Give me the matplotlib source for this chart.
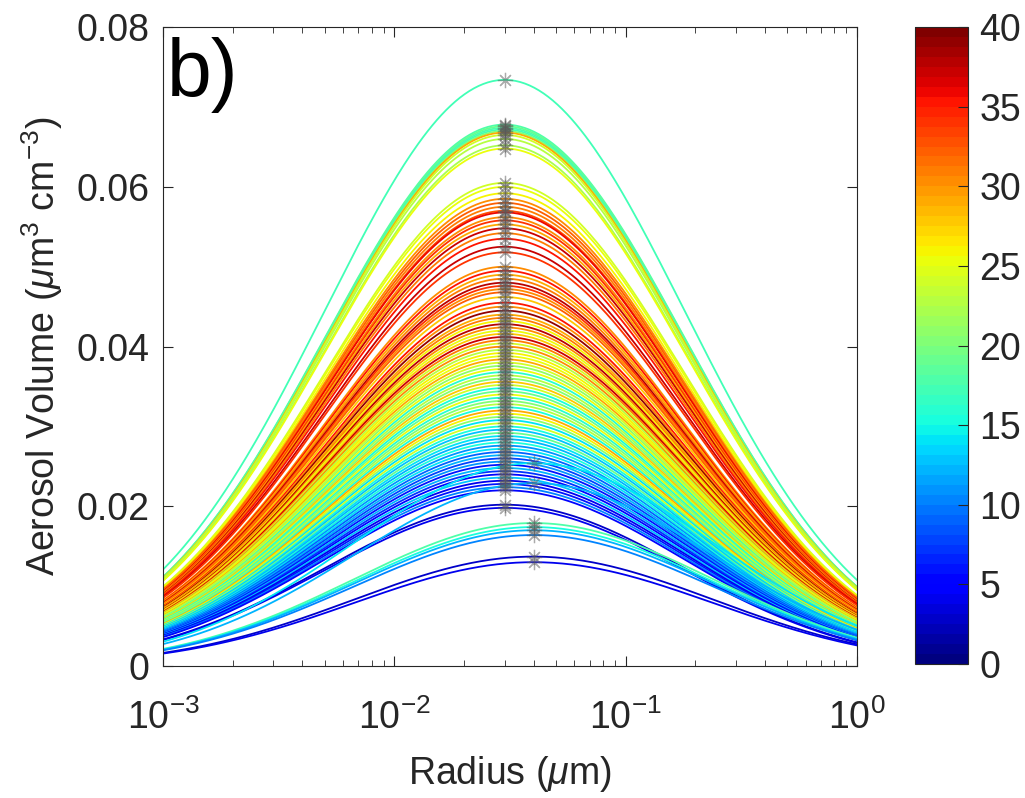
import matplotlib.pyplot as plt
import matplotlib as mpl
import numpy as np

plt.rcParams['font.family'] = ['Liberation Sans', 'DejaVu Sans']
plt.rcParams['mathtext.fontset'] = 'custom'
plt.rcParams['mathtext.rm'] = 'Liberation Sans'
plt.rcParams['mathtext.it'] = 'Liberation Sans:italic'

# fitted log-normal modes: peak volume, mode radius, colour value
peak_volume = [
    0.0734,
    0.0678, 0.0676, 0.0674, 0.0672, 0.0670, 0.0668, 0.0665, 0.0660, 0.0652, 0.0648,
    0.0605, 0.0600, 0.0592,
    0.0585, 0.0580, 0.0575, 0.0570, 0.0568, 0.0562, 0.0558, 0.0553, 0.0548, 0.0542, 0.0535,
    0.0525, 0.0518,
    0.0500, 0.0495, 0.0490, 0.0485, 0.0480, 0.0476, 0.0472, 0.0468, 0.0462,
    0.0455, 0.0450, 0.0445, 0.0440, 0.0436, 0.0432, 0.0428, 0.0424, 0.0420, 0.0416,
    0.0412, 0.0408, 0.0404, 0.0400, 0.0396,
    0.0392, 0.0388, 0.0384, 0.0380, 0.0376, 0.0372, 0.0368, 0.0364, 0.0360, 0.0356,
    0.0352, 0.0348, 0.0344, 0.0340, 0.0336, 0.0332, 0.0328, 0.0324, 0.0320, 0.0316,
    0.0312, 0.0308, 0.0304, 0.0300, 0.0296, 0.0292, 0.0288, 0.0284, 0.0280, 0.0276,
    0.0272, 0.0268, 0.0264, 0.0260, 0.0256, 0.0252, 0.0248, 0.0244, 0.0240, 0.0236,
    0.0232, 0.0228, 0.0224, 0.0220,
    0.0202, 0.0198,
    0.0254, 0.0229,
    0.0179, 0.0174, 0.0170, 0.0164, 0.0137, 0.0130,
]
mode_radius = [0.03] * 97 + [0.04] * 8
color_value = [
    17,
    18, 19, 18, 17, 20, 29, 24, 23, 22, 25,
    24, 25, 26,
    30, 32, 31, 33, 36, 30, 34, 29, 37, 31, 35,
    37, 34,
    30, 35, 29, 31, 38, 34, 30, 32, 28,
    35, 30, 39, 29, 31, 26, 38, 30, 25, 28,
    37, 31, 24, 30, 23,
    26, 25, 29, 24, 21, 25, 16, 23, 20, 28,
    24, 15, 19, 25, 16, 20, 23, 15, 29, 26,
    21, 14, 24, 15, 13, 19, 14, 12, 15, 11,
    14, 9, 12, 8, 11, 6, 12, 7, 5, 13,
    4, 6, 10, 5,
    3, 4,
    14, 12,
    18, 15, 12, 10, 3, 4,
]
ln_width = 1.79

radius = np.logspace(-3, 0, 300)
cmap = mpl.colormaps['jet'].resampled(64)
norm = mpl.colors.Normalize(0, 40)

fig = plt.figure(figsize=(10.25, 7.98), dpi=100)
ax = fig.add_axes([0.159, 0.1654, 0.677, 0.8006])
cax = fig.add_axes([0.893, 0.168, 0.0517, 0.798])

for v, rm, c in zip(peak_volume, mode_radius, color_value):
    vol = v * np.exp(-np.log(radius / rm)**2 / (2 * ln_width**2))
    ax.plot(radius, vol, color=cmap(norm(c)), lw=1.3)

ax.plot(mode_radius, peak_volume, ls='none', marker=(8, 2, 0), ms=11,
        mec='0.35', mew=0.9, alpha=0.5)

ax.set_xscale('log')
ax.set_xlim(1e-3, 1)
ax.set_ylim(0, 0.08)
ax.set_yticks([0, 0.02, 0.04, 0.06, 0.08])
ax.set_yticklabels(['0', '0.02', '0.04', '0.06', '0.08'])
ax.set_xticks([1e-3, 1e-2, 1e-1, 1])
ax.set_xticklabels([r'$10^{-3}$', r'$10^{-2}$', r'$10^{-1}$', r'$10^{0}$'])
ax.tick_params(which='both', direction='in', top=True, right=True,
               labelsize=27, colors='#262626')
ax.tick_params(axis='y', pad=10)
ax.tick_params(axis='x', pad=24)
ax.tick_params(which='major', length=7)
ax.tick_params(which='minor', length=4)
for s in ax.spines.values():
    s.set_color('#262626')
ax.set_xlabel(r'Radius ($\mu$m)', fontsize=27, color='#262626', labelpad=12)
ax.set_ylabel(r'Aerosol Volume ($\mu$m$^3$ cm$^{-3}$)', fontsize=27,
              color='#262626', labelpad=8)
ax.text(0.005, 0.985, 'b)', transform=ax.transAxes, fontsize=58,
        va='top', ha='left')

sm = mpl.cm.ScalarMappable(norm=norm, cmap=cmap)
cb = fig.colorbar(sm, cax=cax, ticks=np.arange(0, 41, 5))
cb.ax.tick_params(direction='in', labelsize=27, colors='#262626', length=7, pad=8)
cb.outline.set_edgecolor('#262626')

fig.savefig('out.png', dpi=100)
